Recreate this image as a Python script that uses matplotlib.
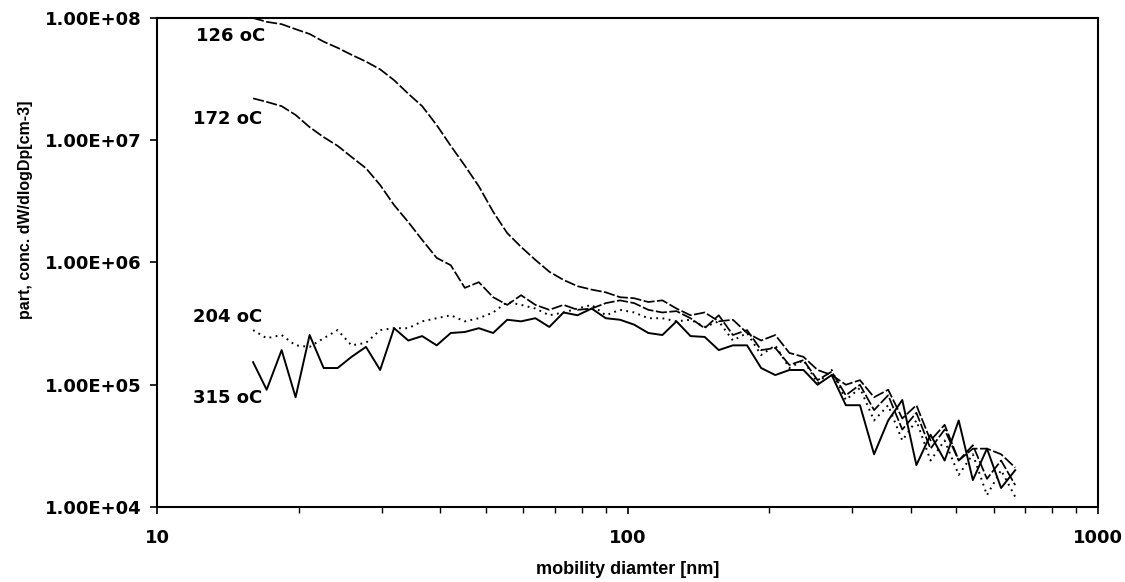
import numpy as np
import matplotlib
matplotlib.use("Agg")
import matplotlib.pyplot as plt
from matplotlib.ticker import FuncFormatter, FixedLocator, NullFormatter

plt.rcParams['lines.scale_dashes'] = False

# mobility diameter channels [nm]
diam = [16.0, 17.1, 18.4, 19.7, 21.1, 22.6, 24.2, 25.9, 27.8, 29.8,
        31.9, 34.2, 36.6, 39.3, 42.1, 45.1, 48.3, 51.8, 55.5, 59.4,
        63.7, 68.2, 73.1, 78.3, 83.9, 89.9, 96.4, 103.3, 110.7, 118.6,
        127.1, 136.1, 145.9, 156.3, 167.5, 179.5, 192.3, 206.1, 220.8, 236.6,
        253.5, 271.6, 291.1, 311.9, 334.2, 358.1, 383.7, 411.1, 440.6, 472.1,
        505.8, 542.0, 580.8, 622.3, 666.8]

# dW/dlogDp [cm-3]
c126 = [1.0e8, 9.3e7, 8.9e7, 8.1e7, 7.4e7, 6.4e7, 5.7e7, 5.0e7, 4.4e7, 3.8e7,
        3.1e7, 2.4e7, 1.9e7, 1.33e7, 9.0e6, 6.2e6, 4.2e6, 2.6e6, 1.74e6, 1.34e6,
        1.05e6, 8.4e5, 7.2e5, 6.4e5, 6.0e5, 5.7e5, 5.2e5, 5.1e5, 4.75e5, 4.9e5,
        4.2e5, 3.7e5, 3.9e5, 3.3e5, 3.4e5, 2.65e5, 2.3e5, 2.55e5, 1.82e5, 1.69e5,
        1.32e5, 1.2e5, 1.0e5, 1.09e5, 7.9e4, 9.1e4, 5.3e4, 6.8e4, 3.5e4, 4.7e4,
        2.4e4, 3.0e4, 3.0e4, 2.7e4, 2.1e4]

c172 = [2.2e7, 2.06e7, 1.9e7, 1.61e7, 1.28e7, 1.06e7, 9.0e6, 7.3e6, 5.9e6, 4.3e6,
        2.95e6, 2.14e6, 1.53e6, 1.09e6, 9.5e5, 6.2e5, 6.9e5, 5.2e5, 4.5e5, 5.4e5,
        4.5e5, 4.1e5, 4.5e5, 4.1e5, 4.2e5, 4.65e5, 4.9e5, 4.65e5, 4.1e5, 3.9e5,
        4.0e5, 3.5e5, 2.9e5, 3.7e5, 2.55e5, 2.8e5, 1.92e5, 2.0e5, 1.45e5, 1.59e5,
        1.09e5, 1.28e5, 8.2e4, 1.0e5, 6.2e4, 8.2e4, 4.3e4, 5.9e4, 3.0e4, 4.3e4,
        2.4e4, 3.2e4, 1.7e4, 2.4e4, 1.51e4]

c204 = [2.8e5, 2.4e5, 2.55e5, 2.1e5, 2.04e5, 2.4e5, 2.8e5, 2.1e5, 2.2e5, 2.8e5,
        2.9e5, 2.9e5, 3.3e5, 3.5e5, 3.7e5, 3.3e5, 3.5e5, 3.9e5, 4.75e5, 4.5e5,
        4.2e5, 3.7e5, 3.9e5, 4.2e5, 4.5e5, 3.7e5, 4.1e5, 3.9e5, 3.5e5, 3.5e5,
        3.3e5, 3.4e5, 2.97e5, 3.3e5, 2.3e5, 2.65e5, 1.75e5, 2.1e5, 1.37e5, 1.59e5,
        1.03e5, 1.32e5, 7.5e4, 9.4e4, 5.1e4, 6.8e4, 3.5e4, 5.1e4, 2.4e4, 3.5e4,
        1.83e4, 2.7e4, 1.25e4, 2.0e4, 1.21e4]

c315 = [1.53e5, 9.1e4, 1.92e5, 7.9e4, 2.55e5, 1.37e5, 1.37e5, 1.69e5, 2.04e5, 1.32e5,
        2.9e5, 2.3e5, 2.5e5, 2.1e5, 2.65e5, 2.7e5, 2.9e5, 2.65e5, 3.4e5, 3.3e5,
        3.5e5, 2.97e5, 3.9e5, 3.7e5, 4.2e5, 3.5e5, 3.4e5, 3.1e5, 2.65e5, 2.55e5,
        3.3e5, 2.5e5, 2.46e5, 1.92e5, 2.1e5, 2.1e5, 1.37e5, 1.2e5, 1.32e5, 1.32e5,
        1.0e5, 1.2e5, 6.8e4, 6.8e4, 2.7e4, 5.1e4, 7.5e4, 2.2e4, 3.9e4, 2.4e4,
        5.1e4, 1.66e4, 3.0e4, 1.43e4, 2.0e4]

labels = ['126 oC', '172 oC', '204 oC', '315 oC']
label_x = [12.1, 11.9, 11.9, 11.9]
label_y = [7.1e7, 1.5e7, 3.6e5, 7.8e4]

fig = plt.figure(figsize=(11.25, 5.82), dpi=100)
ax = fig.add_axes([0.1396, 0.1289, 0.8364, 0.8402])

ax.plot(diam, c126, color='black', lw=1.25, dashes=(8, 1.8))
ax.plot(diam, c172, color='black', lw=1.25, dashes=(8, 1.8))
ax.plot(diam, c204, color='black', lw=1.4, dashes=(1.3, 3.2))
ax.plot(diam, c315, color='black', lw=1.4)

for t, x, y in zip(labels, label_x, label_y):
    ax.text(x, y, t, ha='left', va='center', fontsize=13,
            fontweight='bold', family='DejaVu Sans')

ax.set_xscale('log')
ax.set_yscale('log')
ax.set_xlim(10, 1000)
ax.set_ylim(1e4, 1e8)

ax.xaxis.set_major_locator(FixedLocator([10, 100, 1000]))
ax.xaxis.set_major_formatter(FuncFormatter(lambda v, p: '%d' % v))
ax.xaxis.set_minor_locator(FixedLocator([20, 30, 40, 50, 60, 70, 80, 90,
                                         200, 300, 400, 500, 600, 700, 800, 900]))
ax.xaxis.set_minor_formatter(NullFormatter())
ax.yaxis.set_major_locator(FixedLocator([1e4, 1e5, 1e6, 1e7, 1e8]))
ax.yaxis.set_major_formatter(FuncFormatter(lambda v, p: '%.2E' % v))
ax.yaxis.set_minor_locator(FixedLocator([]))

ax.tick_params(axis='x', which='major', direction='out', length=5, width=1.2,
               labelsize=13, pad=11)
ax.tick_params(axis='x', which='minor', direction='out', length=4, width=1.0)
ax.tick_params(axis='y', which='major', direction='out', length=5, width=1.2,
               labelsize=13, pad=6)
for lab in ax.get_xticklabels() + ax.get_yticklabels():
    lab.set_fontweight('bold')

for s in ax.spines.values():
    s.set_linewidth(1.5)
    s.set_color('black')

ax.set_xlabel('mobility diamter [nm]', fontsize=13, fontweight='bold',
              family='Liberation Sans', labelpad=10)
ax.set_ylabel('part, conc. dW/dlogDp[cm-3]', fontsize=11.5, fontweight='bold',
              family='Liberation Sans')
ax.yaxis.set_label_coords(-0.132, 0.607)

fig.savefig('out.png', dpi=100)
